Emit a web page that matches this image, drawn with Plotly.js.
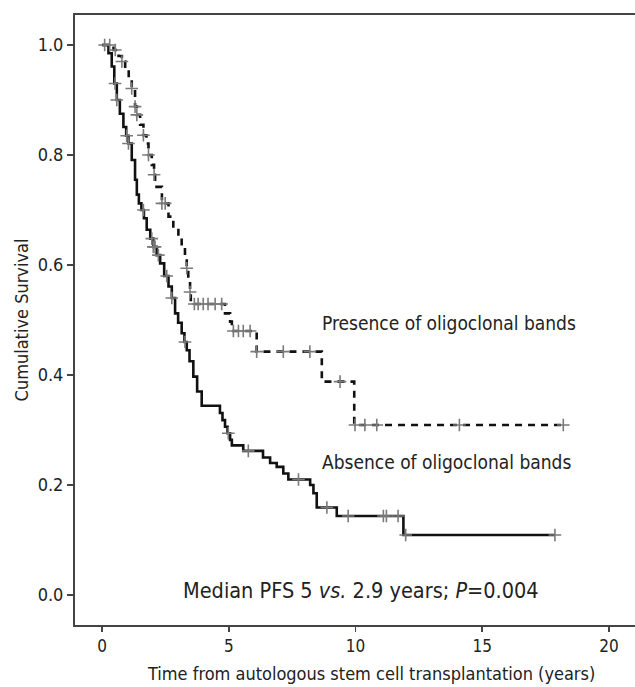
<!DOCTYPE html>
<html>
<head>
<meta charset="utf-8">
<script src="https://cdn.plot.ly/plotly-3.0.1.min.js"></script>
<style>html,body{margin:0;padding:0;background:#fff;}#chart{width:635px;height:687px;}</style>
</head>
<body>
<div id="chart"></div>
<script>
// Absence of oligoclonal bands (solid): step times (years) and survival after each step
var absenceTimes = [0.00,0.25,0.38,0.48,0.58,0.70,0.84,0.95,1.04,1.17,1.30,1.37,1.45,1.55,1.65,1.76,1.90,2.02,2.15,2.29,2.45,2.62,2.75,2.88,3.00,3.14,3.25,3.34,3.45,3.60,3.75,3.93,4.65,4.75,4.85,4.95,5.05,5.12,5.57,6.35,6.63,6.89,7.15,7.35,8.21,8.34,8.47,9.26,11.89,17.87];
var absenceSurv  = [1.000,0.985,0.961,0.930,0.900,0.875,0.851,0.835,0.821,0.791,0.755,0.728,0.712,0.700,0.685,0.664,0.648,0.633,0.618,0.603,0.580,0.561,0.540,0.512,0.495,0.476,0.460,0.445,0.425,0.397,0.370,0.344,0.331,0.318,0.306,0.294,0.282,0.272,0.262,0.250,0.240,0.233,0.221,0.210,0.200,0.185,0.159,0.1436,0.109,0.109];
var absenceCensor = [0.10,0.51,0.58,0.97,1.04,1.63,1.96,2.02,2.09,2.22,2.55,2.75,3.27,4.98,5.77,7.75,8.87,9.71,11.10,11.22,11.68,11.98,17.87];

// Presence of oligoclonal bands (dashed)
var presenceTimes = [0.00,0.45,0.65,0.78,0.91,1.05,1.17,1.30,1.37,1.50,1.63,1.75,1.83,1.96,2.05,2.09,2.36,2.62,2.81,3.01,3.14,3.27,3.34,3.40,3.47,3.50,4.85,5.05,5.12,6.10,8.67,9.95,18.20];
var presenceSurv  = [1.000,0.991,0.980,0.970,0.955,0.940,0.921,0.888,0.873,0.855,0.836,0.821,0.800,0.782,0.764,0.742,0.712,0.688,0.670,0.651,0.633,0.612,0.594,0.573,0.551,0.529,0.512,0.497,0.480,0.4425,0.388,0.309,0.309];
var presenceCensor = [0.30,0.52,0.78,1.17,1.30,1.37,1.63,1.83,2.05,2.36,2.49,3.34,3.47,3.64,3.79,3.99,4.18,4.46,4.72,5.18,5.38,5.57,5.84,6.10,7.15,8.20,9.39,9.98,10.37,10.84,14.10,18.20];

var labelPresence = "Presence of oligoclonal bands";
var labelAbsence = "Absence of oligoclonal bands";
var labelMedian = "Median PFS 5 <i>vs.</i> 2.9 years; <i>P</i>=0.004";
var xTitle = "Time from autologous stem cell transplantation (years)";
var yTitle = "Cumulative Survival";
var xTicks = [0,5,10,15,20];
var yTicks = [0.0,0.2,0.4,0.6,0.8,1.0];

function survAt(times, surv, t){
  var s = surv[0];
  for (var i=0;i<times.length;i++){ if (times[i] <= t) s = surv[i]; }
  return s;
}

var narrow = "Liberation Sans Narrow, DejaVu Sans Condensed, Arial Narrow, sans-serif";
var censorMarker = {symbol:'cross-thin', size:9, color:'#7a7a7a', line:{color:'#7a7a7a', width:1.6}};

var traces = [
  {x:absenceTimes, y:absenceSurv, mode:'lines', line:{shape:'hv', color:'#111', width:2.6}, hoverinfo:'skip'},
  {x:presenceTimes, y:presenceSurv, mode:'lines', line:{shape:'hv', color:'#111', width:2.6, dash:'7px,6px'}, hoverinfo:'skip'},
  {x:absenceCensor, y:absenceCensor.map(function(t){return survAt(absenceTimes,absenceSurv,t);}), mode:'markers', marker:censorMarker, hoverinfo:'skip'},
  {x:presenceCensor, y:presenceCensor.map(function(t){return survAt(presenceTimes,presenceSurv,t);}), mode:'markers', marker:censorMarker, hoverinfo:'skip'}
];

var layout = {
  width:635, height:687,
  margin:{l:75, r:0, t:15, b:62},
  showlegend:false,
  paper_bgcolor:'#fff', plot_bgcolor:'#fff',
  xaxis:{
    range:[-1.07, 21.03], tickvals:xTicks, ticktext:xTicks.map(String),
    showgrid:false, zeroline:false, showline:true, linecolor:'#444', linewidth:2, mirror:true,
    ticks:'outside', ticklen:5, tickwidth:1.5, tickcolor:'#444',
    tickfont:{family:narrow, size:17, color:'#222'}
  },
  yaxis:{
    range:[-0.0545, 1.0545], tickvals:yTicks, ticktext:yTicks.map(function(v){return v.toFixed(1);}),
    showgrid:false, zeroline:false, showline:true, linecolor:'#444', linewidth:2,
    ticks:'outside', ticklen:6, tickwidth:1.5, tickcolor:'#444',
    tickfont:{family:narrow, size:18, color:'#222'},
    title:{text:yTitle, font:{family:narrow, size:18, color:'#222'}, standoff:4}
  },
  annotations:[
    {x:10.6, y:-0.079, xref:'x', yref:'paper', text:xTitle, showarrow:false, xanchor:'center', yanchor:'middle', font:{family:narrow, size:18, color:'#222'}},
    {x:8.6, y:0.495, xref:'x', yref:'y', text:labelPresence, showarrow:false, xanchor:'left', yanchor:'middle', font:{family:narrow, size:19, color:'#222'}},
    {x:8.6, y:0.242, xref:'x', yref:'y', text:labelAbsence, showarrow:false, xanchor:'left', yanchor:'middle', font:{family:narrow, size:19, color:'#222'}},
    {x:10.2, y:0.009, xref:'x', yref:'y', text:labelMedian, showarrow:false, xanchor:'center', yanchor:'middle', font:{family:narrow, size:21.5, color:'#222'}}
  ]
};

Plotly.newPlot('chart', traces, layout, {staticPlot:true, displayModeBar:false});
</script>
</body>
</html>
